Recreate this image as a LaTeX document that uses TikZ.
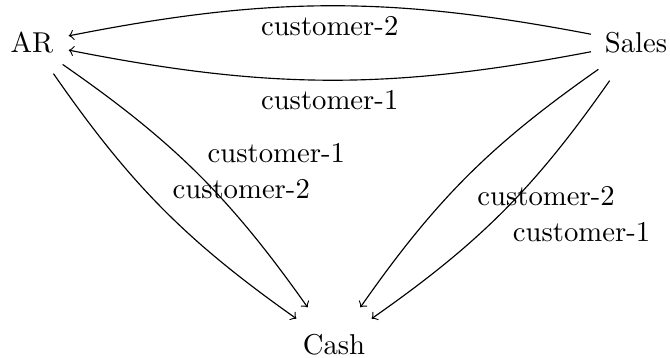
\documentclass[tikz,border=0pt]{standalone}
\begin{document}
\begin{tikzpicture}[x=0.3484pt,y=0.3484pt,
  st/.style={circle, inner sep=0.3333em},
  conn/.style={->},
  lbl/.style={auto}]
\useasboundingbox (0,0) rectangle (670,358);
\node[st] (AR) at (32,315) {AR};
\node[st] (Sales) at (636,315) {Sales};
\node[st] (Cash) at (334,13) {Cash};
\draw[conn] (Sales) to[bend right=11] node[lbl] {customer-2} (AR);
\draw[conn] (Sales) to[bend left=11] node[lbl] {customer-1} (AR);
\draw[conn] (AR) to[bend left=10] node[lbl] {customer-1} (Cash);
\draw[conn] (AR) to[bend right=10] node[lbl] {customer-2} (Cash);
\draw[conn] (Sales) to[bend right=10] node[lbl] {customer-2} (Cash);
\draw[conn] (Sales) to[bend left=10] node[lbl] {customer-1} (Cash);
\end{tikzpicture}
\end{document}
